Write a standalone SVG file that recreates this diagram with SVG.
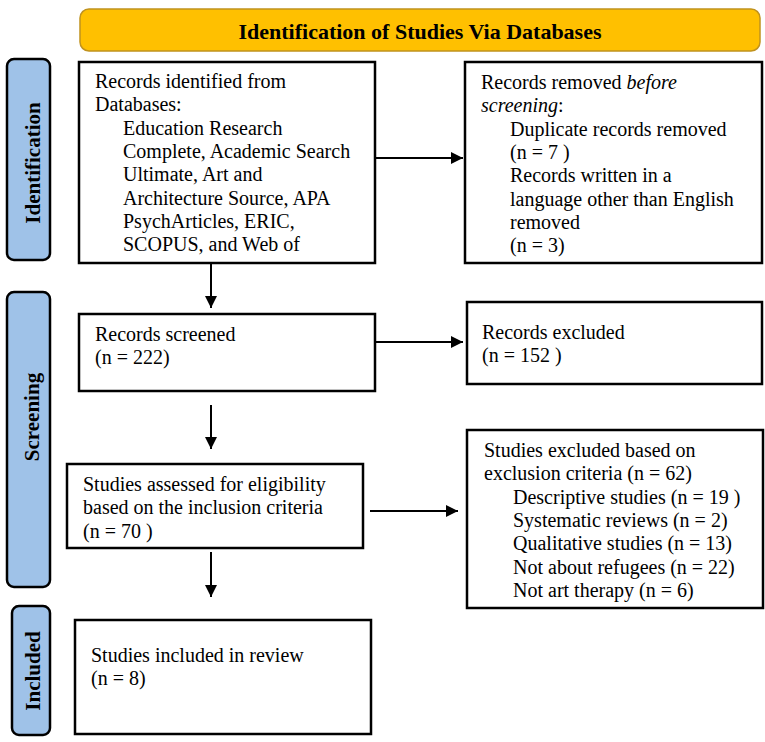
<svg xmlns="http://www.w3.org/2000/svg" width="765" height="742" viewBox="0 0 765 742">
<style>
text{font-family:"Liberation Serif","Times New Roman",serif;font-size:20px;fill:#000}
.box{fill:#fff;stroke:#000;stroke-width:2.5}
.side{fill:#9FC2E8;stroke:#000;stroke-width:2.5}
.lbl{font-weight:bold;font-size:21px;text-anchor:middle}
.title{font-weight:bold;font-size:22px;text-anchor:middle}
.con line{stroke:#000;stroke-width:2;fill:none}
</style>
<defs>
<marker id="ah" viewBox="0 0 10 10" refX="10" refY="5" markerWidth="6" markerHeight="6" markerUnits="strokeWidth" orient="auto">
<path d="M0,0 L10,5 L0,10 Z" fill="#000"/>
</marker>
</defs>
<g id="banner">
<rect x="80" y="9" width="680" height="42" rx="9" fill="#FFC000" stroke="#C0921E" stroke-width="1.5"/>
<text class="title" x="420" y="39">Identification of Studies Via Databases</text>
</g>
<g id="phase-identification">
<rect class="side" x="7" y="59" width="43" height="201" rx="7"/>
<text class="lbl" transform="translate(40,163) rotate(-90)">Identification</text>
</g>
<g id="phase-screening">
<rect class="side" x="7" y="292" width="43" height="295" rx="7"/>
<text class="lbl" transform="translate(39,417) rotate(-90)">Screening</text>
</g>
<g id="phase-included">
<rect class="side" x="12" y="606" width="38" height="129" rx="7"/>
<text class="lbl" transform="translate(40,671) rotate(-90)">Included</text>
</g>
<g id="records-identified">
<rect class="box" x="79" y="62" width="296" height="201"/>
<text x="95" y="88">Records identified from</text>
<text x="95" y="111.3">Databases:</text>
<text x="123" y="134.6">Education Research</text>
<text x="123" y="158">Complete, Academic Search</text>
<text x="123" y="181.3">Ultimate, Art and</text>
<text x="123" y="204.6">Architecture Source, APA</text>
<text x="123" y="228">PsychArticles, ERIC,</text>
<text x="123" y="251.3">SCOPUS, and Web of</text>
</g>
<g id="records-removed">
<rect class="box" x="465" y="62" width="297" height="201"/>
<text x="481" y="89">Records removed <tspan font-style="italic">before</tspan></text>
<text x="481" y="112.3"><tspan font-style="italic">screening</tspan>:</text>
<text x="510" y="135.6">Duplicate records removed</text>
<text x="510" y="159">(n = 7 )</text>
<text x="510" y="182.3">Records written in a</text>
<text x="510" y="205.6">language other than English</text>
<text x="510" y="229">removed</text>
<text x="510" y="252.3">(n = 3)</text>
</g>
<g id="records-screened">
<rect class="box" x="79" y="314" width="296" height="77"/>
<text x="95" y="341">Records screened</text>
<text x="95" y="364">(n = 222)</text>
</g>
<g id="records-excluded">
<rect class="box" x="467" y="302" width="295" height="82"/>
<text x="482" y="339">Records excluded</text>
<text x="482" y="362">(n = 152 )</text>
</g>
<g id="studies-assessed">
<rect class="box" x="67" y="464" width="296" height="84"/>
<text x="83" y="491">Studies assessed for eligibility</text>
<text x="83" y="514.3">based on the inclusion criteria</text>
<text x="83" y="537.6">(n = 70 )</text>
</g>
<g id="studies-excluded">
<rect class="box" x="467" y="430" width="296" height="178"/>
<text x="484" y="457">Studies excluded based on</text>
<text x="484" y="480.3">exclusion criteria (n = 62)</text>
<text x="513" y="503.6">Descriptive studies (n = 19 )</text>
<text x="513" y="527">Systematic reviews (n = 2)</text>
<text x="513" y="550.3">Qualitative studies (n = 13)</text>
<text x="513" y="573.6">Not about refugees (n = 22)</text>
<text x="513" y="597">Not art therapy (n = 6)</text>
</g>
<g id="studies-included">
<rect class="box" x="75" y="620" width="296" height="114"/>
<text x="91" y="662">Studies included in review</text>
<text x="91" y="685">(n = 8)</text>
</g>
<g id="connectors" class="con">
<line x1="376" y1="158" x2="463" y2="158" marker-end="url(#ah)"/>
<line x1="211" y1="264" x2="211" y2="308" marker-end="url(#ah)"/>
<line x1="376" y1="342" x2="463" y2="342" marker-end="url(#ah)"/>
<line x1="211" y1="405" x2="211" y2="449" marker-end="url(#ah)"/>
<line x1="370" y1="511" x2="458" y2="511" marker-end="url(#ah)"/>
<line x1="211" y1="552" x2="211" y2="597" marker-end="url(#ah)"/>
</g>
</svg>
